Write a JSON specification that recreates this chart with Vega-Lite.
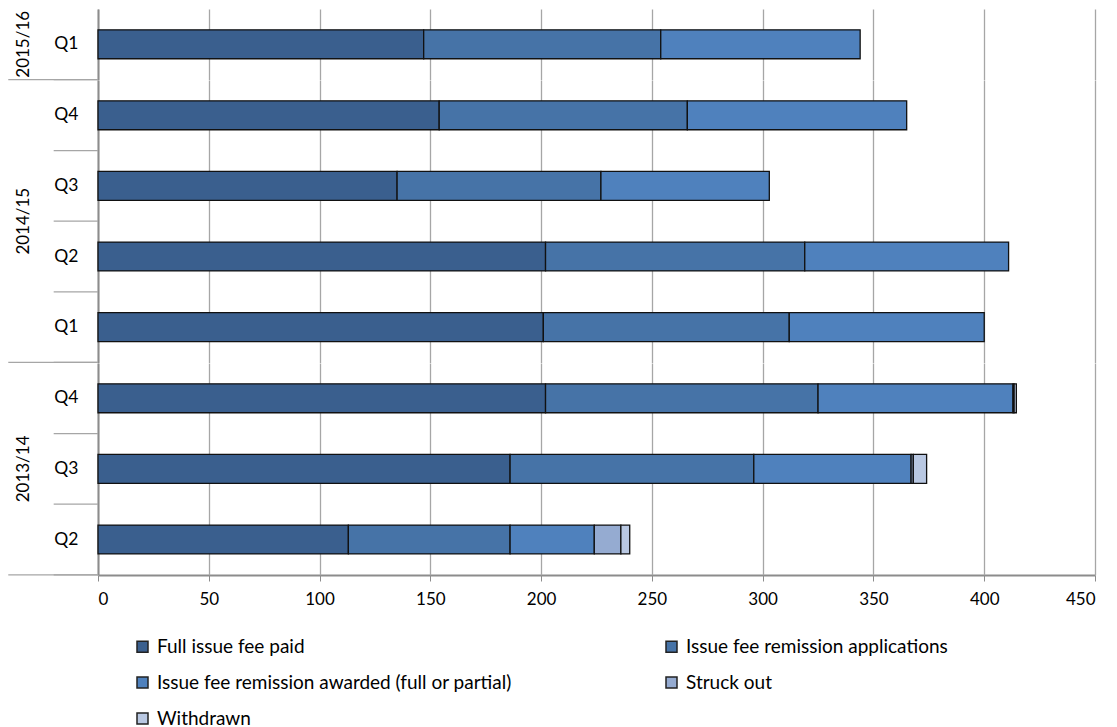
{
  "$schema": "https://vega.github.io/schema/vega-lite/v6.json",
  "background": "white",
  "padding": {"left": 7, "top": 9, "right": 10, "bottom": 5},
  "bounds": "flush",
  "spacing": {"row": 0},
  "data": {
    "values": [
      {"year": "2015/16", "quarter": "Q1", "status": "Full issue fee paid", "count": 147},
      {"year": "2015/16", "quarter": "Q1", "status": "Issue fee remission applications", "count": 107},
      {"year": "2015/16", "quarter": "Q1", "status": "Issue fee remission awarded (full or partial)", "count": 90},

      {"year": "2014/15", "quarter": "Q4", "status": "Full issue fee paid", "count": 154},
      {"year": "2014/15", "quarter": "Q4", "status": "Issue fee remission applications", "count": 112},
      {"year": "2014/15", "quarter": "Q4", "status": "Issue fee remission awarded (full or partial)", "count": 99},
      {"year": "2014/15", "quarter": "Q3", "status": "Full issue fee paid", "count": 135},
      {"year": "2014/15", "quarter": "Q3", "status": "Issue fee remission applications", "count": 92},
      {"year": "2014/15", "quarter": "Q3", "status": "Issue fee remission awarded (full or partial)", "count": 76},
      {"year": "2014/15", "quarter": "Q2", "status": "Full issue fee paid", "count": 202},
      {"year": "2014/15", "quarter": "Q2", "status": "Issue fee remission applications", "count": 117},
      {"year": "2014/15", "quarter": "Q2", "status": "Issue fee remission awarded (full or partial)", "count": 92},
      {"year": "2014/15", "quarter": "Q1", "status": "Full issue fee paid", "count": 201},
      {"year": "2014/15", "quarter": "Q1", "status": "Issue fee remission applications", "count": 111},
      {"year": "2014/15", "quarter": "Q1", "status": "Issue fee remission awarded (full or partial)", "count": 88},

      {"year": "2013/14", "quarter": "Q4", "status": "Full issue fee paid", "count": 202},
      {"year": "2013/14", "quarter": "Q4", "status": "Issue fee remission applications", "count": 123},
      {"year": "2013/14", "quarter": "Q4", "status": "Issue fee remission awarded (full or partial)", "count": 88},
      {"year": "2013/14", "quarter": "Q4", "status": "Struck out", "count": 0.5},
      {"year": "2013/14", "quarter": "Q4", "status": "Withdrawn", "count": 1},
      {"year": "2013/14", "quarter": "Q3", "status": "Full issue fee paid", "count": 186},
      {"year": "2013/14", "quarter": "Q3", "status": "Issue fee remission applications", "count": 110},
      {"year": "2013/14", "quarter": "Q3", "status": "Issue fee remission awarded (full or partial)", "count": 71},
      {"year": "2013/14", "quarter": "Q3", "status": "Struck out", "count": 1},
      {"year": "2013/14", "quarter": "Q3", "status": "Withdrawn", "count": 6},
      {"year": "2013/14", "quarter": "Q2", "status": "Full issue fee paid", "count": 113},
      {"year": "2013/14", "quarter": "Q2", "status": "Issue fee remission applications", "count": 73},
      {"year": "2013/14", "quarter": "Q2", "status": "Issue fee remission awarded (full or partial)", "count": 38},
      {"year": "2013/14", "quarter": "Q2", "status": "Struck out", "count": 12},
      {"year": "2013/14", "quarter": "Q2", "status": "Withdrawn", "count": 4}
    ]
  },
  "facet": {
    "row": {
      "field": "year",
      "type": "nominal",
      "sort": "descending",
      "header": {
        "title": null,
        "labelAngle": -90,
        "labelOrient": "left",
        "labelFont": "Lato",
        "labelFontSize": 17,
        "labelColor": "#000000",
        "labelPadding": 57
      }
    }
  },
  "resolve": {"scale": {"y": "independent"}},
  "spec": {
    "width": 997,
    "height": {"step": 70.6},
    "layer": [
      {
        "mark": {"type": "bar", "height": {"band": 0.41}, "stroke": "#111111", "strokeWidth": 1.3},
        "encoding": {
          "y": {
            "field": "quarter",
            "type": "nominal",
            "sort": "descending",
            "scale": {"paddingInner": 0, "paddingOuter": 0},
            "axis": {
              "title": null,
              "ticks": false,
              "labelFont": "Lato",
              "labelFontSize": 17.5,
              "labelColor": "#000000",
              "labelPadding": 20,
              "domainColor": "#8c8c8c",
              "domainWidth": 2
            }
          },
          "x": {
            "field": "count",
            "type": "quantitative",
            "stack": "zero",
            "scale": {"domain": [0, 450], "nice": false},
            "axis": {
              "title": null,
              "values": [0, 50, 100, 150, 200, 250, 300, 350, 400, 450],
              "grid": true,
              "gridColor": "#a6a6a6",
              "gridWidth": 1.3,
              "domainColor": "#8c8c8c",
              "domainWidth": 2,
              "tickColor": "#8c8c8c",
              "tickSize": 6,
              "labelFont": "Lato",
              "labelFontSize": 17,
              "labelColor": "#000000",
              "labelPadding": 10
            }
          },
          "color": {
            "field": "status",
            "type": "nominal",
            "scale": {
              "domain": [
                "Full issue fee paid",
                "Issue fee remission applications",
                "Issue fee remission awarded (full or partial)",
                "Struck out",
                "Withdrawn"
              ],
              "range": ["#3a5f8e", "#4673a7", "#4f81bd", "#95abd1", "#b9c8e2"]
            },
            "legend": {
              "orient": "none",
              "legendX": 35,
              "legendY": 628,
              "direction": "horizontal",
              "columns": 2,
              "title": null,
              "symbolType": "square",
              "symbolSize": 121,
              "symbolStrokeColor": "#222222",
              "symbolStrokeWidth": 1.5,
              "labelFont": "Lato",
              "labelFontSize": 19,
              "labelColor": "#000000",
              "labelOffset": 5,
              "labelLimit": 600,
              "rowPadding": 16,
              "columnPadding": 150
            }
          }
        }
      },
      {
        "transform": [{"filter": "datum.status === 'Full issue fee paid'"}],
        "mark": {"type": "rule", "color": "#a6a6a6", "strokeWidth": 1.3},
        "encoding": {
          "y": {"field": "quarter", "type": "nominal", "sort": "descending", "bandPosition": 1},
          "x": {"datum": -20},
          "x2": {"datum": 0}
        }
      },
      {
        "transform": [
          {"filter": "datum.status === 'Full issue fee paid'"},
          {
            "window": [{"op": "row_number", "as": "rank_in_year"}],
            "groupby": ["year"],
            "sort": [{"field": "quarter", "order": "ascending"}]
          },
          {"filter": "datum.rank_in_year === 1"}
        ],
        "mark": {"type": "rule", "color": "#a6a6a6", "strokeWidth": 1.3},
        "encoding": {
          "y": {"field": "quarter", "type": "nominal", "sort": "descending", "bandPosition": 1},
          "x": {"datum": -40.5},
          "x2": {"datum": 0}
        }
      }
    ]
  },
  "config": {
    "view": {"stroke": null},
    "font": "Lato"
  }
}
